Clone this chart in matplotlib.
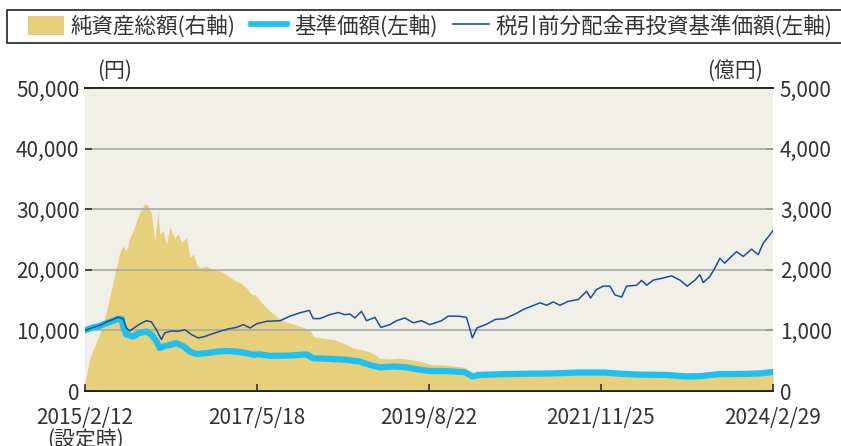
import numpy as np
import matplotlib
matplotlib.use("Agg")
import matplotlib.pyplot as plt
from matplotlib.patches import Rectangle, Patch
from matplotlib.lines import Line2D
from matplotlib.ticker import FuncFormatter

plt.rcParams["font.family"] = ["Noto Sans CJK JP", "DejaVu Sans"]

# 純資産総額 (億円, right axis)
nav_dates = ["2015-02-12", "2015-03-08", "2015-04-09", "2015-05-10", "2015-06-03",
             "2015-06-27", "2015-07-14", "2015-07-29", "2015-08-14", "2015-08-30",
             "2015-09-15", "2015-10-01", "2015-10-18", "2015-11-02", "2015-11-26",
             "2015-12-12", "2015-12-28", "2016-01-13", "2016-01-29", "2016-02-06",
             "2016-02-22", "2016-03-09", "2016-03-25", "2016-04-18", "2016-05-04",
             "2016-05-21", "2016-06-14", "2016-06-30", "2016-07-16", "2016-08-01",
             "2016-08-17", "2016-09-18", "2016-10-20", "2016-11-21", "2016-12-23",
             "2017-01-24", "2017-02-25", "2017-03-29", "2017-04-22", "2017-05-08",
             "2017-06-17", "2017-07-19", "2017-09-06", "2017-10-23", "2017-12-10",
             "2018-01-27", "2018-02-12", "2018-04-01", "2018-05-19", "2018-07-06",
             "2018-08-23", "2018-10-10", "2018-11-27", "2018-12-29", "2019-02-15",
             "2019-04-04", "2019-05-22", "2019-07-09", "2019-08-26", "2019-11-06",
             "2020-02-10", "2020-03-06", "2020-03-21", "2020-04-15", "2020-07-19",
             "2020-11-25", "2021-04-03", "2021-08-08", "2021-12-13", "2022-05-31",
             "2022-10-06", "2023-01-10", "2023-06-19", "2023-12-28", "2024-02-29"]
nav_total = [150, 550, 820, 1090, 1430,
             1810, 2060, 2280, 2390, 2310,
             2530, 2640, 2810, 2950, 3090,
             3060, 2920, 2480, 2970, 2590,
             2640, 2420, 2700, 2530, 2590,
             2450, 2530, 2200, 2260, 2090,
             2030, 2060, 2010, 1980, 1920,
             1840, 1790, 1700, 1590, 1590,
             1430, 1320, 1180, 1120, 1070,
             1010, 900, 870, 850, 790,
             710, 680, 620, 540, 530,
             540, 520, 490, 440, 430,
             390, 320, 290, 310, 320,
             330, 330, 330, 330, 310,
             300, 280, 300, 310, 330]

# 基準価額 (円, left axis)
price_dates = ["2015-02-12", "2015-03-24", "2015-04-22", "2015-05-26", "2015-06-27",
               "2015-07-21", "2015-08-07", "2015-08-14", "2015-08-30", "2015-10-01",
               "2015-11-02", "2015-12-04", "2015-12-28", "2016-01-21", "2016-02-06",
               "2016-03-01", "2016-03-25", "2016-04-27", "2016-05-29", "2016-06-30",
               "2016-08-01", "2016-09-18", "2016-11-05", "2016-12-23", "2017-02-09",
               "2017-03-29", "2017-04-30", "2017-06-01", "2017-07-19", "2017-10-23",
               "2018-01-11", "2018-02-12", "2018-05-03", "2018-07-23", "2018-09-24",
               "2018-11-11", "2018-12-29", "2019-03-03", "2019-05-07", "2019-07-09",
               "2019-08-26", "2019-11-06", "2020-02-10", "2020-03-06", "2020-03-21",
               "2020-04-15", "2020-07-19", "2020-11-25", "2021-04-03", "2021-08-08",
               "2021-12-13", "2022-02-23", "2022-05-31", "2022-10-06", "2023-01-10",
               "2023-03-15", "2023-06-19", "2023-09-23", "2023-12-28", "2024-02-29"]
price = [10000, 10500, 10700, 11200, 11600,
         11900, 11900, 10700, 9300, 9000,
         9600, 9800, 9300, 8200, 7100,
         7400, 7600, 7900, 7400, 6500,
         6100, 6250, 6500, 6600, 6500,
         6250, 6000, 6050, 5800, 5850,
         6050, 5400, 5300, 5150, 4850,
         4300, 3900, 4050, 3900, 3500,
         3300, 3300, 3100, 2650, 2400,
         2650, 2750, 2850, 2900, 3050,
         3050, 2850, 2700, 2650, 2400,
         2450, 2800, 2800, 2900, 3150]

# 税引前分配金再投資基準価額 (円, left axis)
reinv_dates = ["2015-02-12", "2015-03-24", "2015-04-22", "2015-05-26", "2015-06-27",
               "2015-07-21", "2015-08-14", "2015-08-30", "2015-09-15", "2015-10-09",
               "2015-11-10", "2015-12-04", "2015-12-28", "2016-01-21", "2016-02-14",
               "2016-03-01", "2016-04-02", "2016-05-04", "2016-06-06", "2016-07-08",
               "2016-08-09", "2016-09-10", "2016-10-12", "2016-11-21", "2016-12-31",
               "2017-02-09", "2017-03-13", "2017-04-15", "2017-05-17", "2017-07-03",
               "2017-09-06", "2017-10-23", "2017-12-10", "2018-01-24", "2018-02-12",
               "2018-03-16", "2018-05-03", "2018-06-12", "2018-07-14", "2018-08-07",
               "2018-08-31", "2018-10-02", "2018-10-26", "2018-12-05", "2019-01-03",
               "2019-02-15", "2019-03-19", "2019-04-28", "2019-06-08", "2019-07-17",
               "2019-08-26", "2019-10-21", "2019-11-22", "2020-01-09", "2020-02-18",
               "2020-03-06", "2020-03-17", "2020-04-08", "2020-05-26", "2020-07-04",
               "2020-08-21", "2020-10-08", "2020-11-17", "2020-12-27", "2021-02-05",
               "2021-03-09", "2021-04-10", "2021-05-12", "2021-06-21", "2021-08-08",
               "2021-09-17", "2021-10-06", "2021-11-04", "2021-12-05", "2022-01-07",
               "2022-01-31", "2022-03-04", "2022-03-28", "2022-05-15", "2022-06-08",
               "2022-07-02", "2022-08-03", "2022-09-20", "2022-10-30", "2022-12-09",
               "2023-01-13", "2023-02-19", "2023-03-15", "2023-03-31", "2023-05-02",
               "2023-05-26", "2023-06-19", "2023-07-12", "2023-08-13", "2023-09-07",
               "2023-10-09", "2023-11-18", "2023-12-20", "2024-01-13", "2024-02-15",
               "2024-02-29"]
reinv = [10000, 10500, 10800, 11400, 11800,
         12200, 11900, 10400, 9900, 10500,
         11200, 11600, 11400, 10100, 8500,
         9600, 9900, 9850, 10100, 9300,
         8750, 9000, 9400, 9850, 10250,
         10500, 10950, 10400, 11100, 11500,
         11600, 12350, 12900, 13300, 11950,
         11950, 12600, 12950, 12600, 12700,
         12050, 13150, 11600, 12150, 10500,
         10950, 11600, 12050, 11250, 11600,
         10950, 11600, 12350, 12350, 12150,
         10150, 8750, 10400, 11050, 11800,
         11950, 12700, 13450, 14000, 14550,
         14150, 14700, 14150, 14800, 15100,
         16450, 15350, 16750, 17300, 17300,
         15850, 15500, 17300, 17450, 18250,
         17450, 18300, 18650, 19000, 18300,
         17300, 18300, 19200, 17900, 18900,
         20300, 21900, 21100, 22200, 23000,
         22200, 23400, 22500, 24400, 25800,
         26500]

xtick_dates = ["2015-02-12", "2017-05-18", "2019-08-22", "2021-11-25", "2024-02-29"]
xtick_labels = ["2015/2/12\n(設定時)", "2017/5/18", "2019/8/22", "2021/11/25", "2024/2/29"]

bg = "#f1f0e8"
fill_c = "#e6d07c"
light_c = "#1ec0ef"
dark_c = "#1a4f9e"
txt_c = "#333333"

fig = plt.figure(figsize=(8.41, 4.46), dpi=100)
ax = fig.add_axes([85 / 841, 55 / 446, 688 / 841, 303 / 446])
ax2 = ax.twinx()
ax.set_zorder(ax2.get_zorder() + 1)
ax.patch.set_visible(False)
ax2.patch.set_visible(True)
ax2.patch.set_facecolor(bg)

d_nav = np.array(nav_dates, dtype="datetime64[D]")
d_price = np.array(price_dates, dtype="datetime64[D]")
d_reinv = np.array(reinv_dates, dtype="datetime64[D]")

ax2.fill_between(d_nav, 0, nav_total, color=fill_c, lw=0)
ax.plot(d_price, price, color=light_c, lw=4.5, solid_capstyle="round", zorder=3)
ax.plot(d_reinv, reinv, color=dark_c, lw=1.1, zorder=4)

ax.set_xlim(np.datetime64("2015-02-12"), np.datetime64("2024-02-29"))
ax.set_ylim(0, 50000)
ax2.set_ylim(0, 5000)
ax.set_yticks(range(0, 50001, 10000))
ax2.set_yticks(range(0, 5001, 1000))
fmt = FuncFormatter(lambda v, p: f"{int(v):,}")
ax.yaxis.set_major_formatter(fmt)
ax2.yaxis.set_major_formatter(fmt)

ax.set_xticks(np.array(xtick_dates, dtype="datetime64[D]"))
ax.set_xticklabels(xtick_labels)
for lab in ax.get_xticklabels():
    lab.set_linespacing(1.0)

ax.set_axisbelow(True)
ax.grid(axis="y", color="#a8a8a8", lw=1.2)

for a in (ax, ax2):
    a.spines["left"].set_visible(False)
    a.spines["right"].set_visible(False)
    a.spines["top"].set_color("#222222")
    a.spines["bottom"].set_color("#222222")
    a.spines["top"].set_linewidth(1.3)
    a.spines["bottom"].set_linewidth(1.3)

ax.tick_params(axis="y", direction="in", length=5, width=1.2, color="#333333",
               labelsize=15, labelcolor=txt_c, pad=4)
ax2.tick_params(axis="y", direction="in", length=5, width=1.2, color="#333333",
                labelsize=15, labelcolor=txt_c, pad=5)
ax.tick_params(axis="x", direction="in", length=5, width=1.2, color="#333333",
               labelsize=15, labelcolor=txt_c, pad=11.5)

fig.text(97 / 841, 1 - 71 / 446, "(円)", fontsize=15, color=txt_c, ha="left", va="center")
fig.text(763 / 841, 1 - 71 / 446, "(億円)", fontsize=15, color=txt_c, ha="right", va="center")

# legend frame (runs off the right edge)
fig.patches.append(Rectangle((6.7 / 841, 403 / 446), 0.999, 33 / 446,
                             transform=fig.transFigure, facecolor="white",
                             edgecolor="#222222", lw=1.2, zorder=0))
handles = [Patch(facecolor=fill_c, edgecolor="none"),
           Line2D([], [], color=light_c, lw=4),
           Line2D([], [], color=dark_c, lw=1.2)]
labels = ["純資産総額(右軸)", "基準価額(左軸)", "税引前分配金再投資基準価額(左軸)"]
fig.legend(handles, labels, loc="center left", bbox_to_anchor=(17 / 841, 1 - 26.5 / 446),
           ncol=3, frameon=False, fontsize=15.5, borderpad=0, handlelength=1.7,
           handleheight=1.0, handletextpad=0.3, columnspacing=0.7,
           labelcolor=txt_c)

fig.savefig("out.png", dpi=100)
